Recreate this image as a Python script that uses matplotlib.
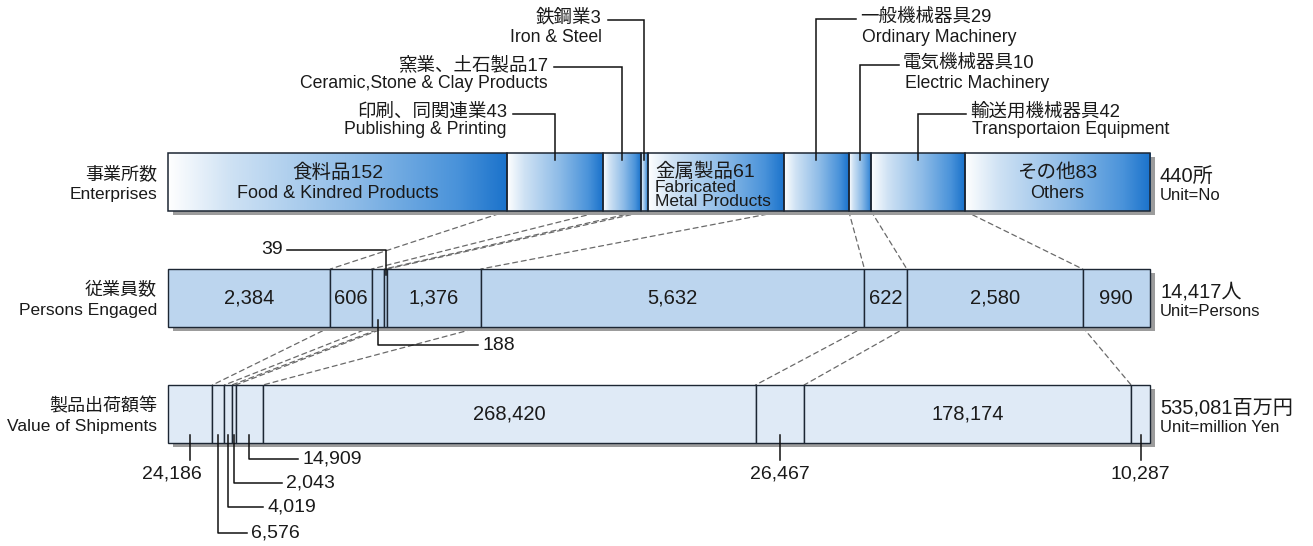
import matplotlib
matplotlib.use('Agg')
import matplotlib.pyplot as plt
import numpy as np
from matplotlib.colors import LinearSegmentedColormap
from matplotlib.patches import ConnectionPatch
import matplotlib.patheffects as pe
from matplotlib.transforms import offset_copy

plt.rcParams['font.family'] = ['Liberation Sans', 'Noto Sans CJK JP', 'DejaVu Sans']

# ---------------- data ----------------
categories_ja = ['食料品', '印刷、同関連業', '窯業、土石製品', '鉄鋼業', '金属製品',
                 '一般機械器具', '電気機械器具', '輸送用機械器具', 'その他']
categories_en = ['Food & Kindred Products', 'Publishing & Printing',
                 'Ceramic,Stone & Clay Products', 'Iron & Steel',
                 'Fabricated Metal Products', 'Ordinary Machinery',
                 'Electric Machinery', 'Transportaion Equipment', 'Others']
enterprises = [152, 43, 17, 3, 61, 29, 10, 42, 83]
persons = [2384, 606, 188, 39, 1376, 5632, 622, 2580, 990]
shipments = [24186, 6576, 4019, 2043, 14909, 268420, 26467, 178174, 10287]

row_titles_ja = ['事業所数', '従業員数', '製品出荷額等']
row_titles_en = ['Enterprises', 'Persons Engaged', 'Value of Shipments']
unit_suffix = ['所', '人', '百万円']
unit_labels = ['Unit=No', 'Unit=Persons', 'Unit=million Yen']

# ---------------- layout ----------------
W, H = 1313, 546
fig = plt.figure(figsize=(W / 100, H / 100), dpi=100)
fig.patch.set_facecolor('white')

BAR_L, BAR_W, BAR_H = 168, 982, 58
bar_tops = [153, 269, 385]
EDGE = '#1c2633'
TXT = '#1a1a1a'
DASH = '#6a6a6a'

ov = fig.add_axes([0, 0, 1, 1], zorder=5)
ov.set_xlim(0, W)
ov.set_ylim(H, 0)
ov.axis('off')
ov.patch.set_alpha(0)


def add_bar_axes(top, total):
    ax = fig.add_axes([BAR_L / W, 1 - (top + BAR_H) / H, BAR_W / W, BAR_H / H], zorder=1)
    ax.axis('off')
    return ax


def to_px(ax, x, y):
    d = ax.transData.transform((x, y))
    return ov.transData.inverted().transform(d)


grad_cmap = LinearSegmentedColormap.from_list(
    'g', [(0.0, '#ffffff'), (0.18, '#cfe2f4'), (0.55, '#8dbbe7'),
          (0.85, '#4a93da'), (1.0, '#1a72cb')])

series = [enterprises, persons, shipments]
fills = [None, '#bcd5ee', '#dfeaf6']
axes = []
for r, vals in enumerate(series):
    total = sum(vals)
    ax = add_bar_axes(bar_tops[r], total)
    lefts = np.concatenate([[0], np.cumsum(vals)[:-1]])
    # shadow
    ax.barh(0.5, total, left=0, height=1, color='white', clip_on=False, zorder=0.5,
            path_effects=[pe.SimplePatchShadow(offset=(3.6, -3.2), shadow_rgbFace='#9c9c9c', alpha=1),
                          pe.Normal()])
    if fills[r] is None:
        g = np.linspace(0, 1, 256).reshape(1, -1)
        for l, v in zip(lefts, vals):
            ax.imshow(g, extent=(l, l + v, 0, 1), aspect='auto', cmap=grad_cmap,
                      interpolation='bilinear', zorder=1)
        ax.barh(0.5, vals, left=lefts, height=1, facecolor='none', edgecolor=EDGE,
                linewidth=1.1, clip_on=False, zorder=2)
    else:
        ax.barh(0.5, vals, left=lefts, height=1, facecolor=fills[r], edgecolor=EDGE,
                linewidth=1.0, clip_on=False, zorder=2)
    ax.set_xlim(0, total)
    ax.set_ylim(0, 1)
    axes.append((ax, lefts, vals, total))

    # row titles
    yt = bar_tops[r] + BAR_H / 2
    ov.text(157, yt - 7, row_titles_ja[r], ha='right', va='center', fontsize=13, color=TXT)
    ov.text(157, yt + 12, row_titles_en[r], ha='right', va='center', fontsize=12.5, color=TXT)
    ov.text(1160, yt - 6, f'{total:,}{unit_suffix[r]}', ha='left', va='center', fontsize=14.5, color=TXT)
    ov.text(1160, yt + 13, unit_labels[r], ha='left', va='center', fontsize=12, color=TXT)

ax_e, le, ve, te = axes[0]
ax_p, lp, vp, tp = axes[1]
ax_s, ls, vs, ts = axes[2]

# connectors
for (axA, lA, vA, tA), (axB, lB, vB, tB) in [(axes[0], axes[1]), (axes[1], axes[2])]:
    bA = np.cumsum(vA)[:-1]
    bB = np.cumsum(vB)[:-1]
    for xa, xb in zip(bA, bB):
        con = ConnectionPatch(xyA=(xa, 0), coordsA=axA.transData,
                              xyB=(xb, 1), coordsB=axB.transData,
                              color=DASH, linewidth=0.9, linestyle=(0, (4, 3)), zorder=1)
        fig.add_artist(con)

# ---------- top bar labels ----------
def cen(lefts, vals, i):
    return lefts[i] + vals[i] / 2

ax_e.text(cen(le, ve, 0), 0.66, f'{categories_ja[0]}{ve[0]}', ha='center', va='center', fontsize=14, color=TXT)
ax_e.text(cen(le, ve, 0), 0.31, categories_en[0], ha='center', va='center', fontsize=13, color=TXT)
ax_e.text(cen(le, ve, 8), 0.66, f'{categories_ja[8]}{ve[8]}', ha='center', va='center', fontsize=14, color=TXT)
ax_e.text(cen(le, ve, 8), 0.31, categories_en[8], ha='center', va='center', fontsize=13, color=TXT)
tr = offset_copy(ax_e.transData, fig=fig, x=7, y=0, units='dots')
ax_e.text(le[4], 0.68, f'{categories_ja[4]}{ve[4]}', ha='left', va='center', fontsize=14, color=TXT, transform=tr)
ax_e.text(le[4], 0.41, 'Fabricated', ha='left', va='center', fontsize=12.5, color=TXT, transform=tr)
ax_e.text(le[4], 0.17, 'Metal Products', ha='left', va='center', fontsize=12.5, color=TXT, transform=tr)

y_into_top = to_px(ax_e, 0, 0.88)[1]
left_ann = {3: (602, 18, 37), 2: (548, 65, 84), 1: (507, 112, 130)}
for i, (xr, yj, yen) in left_ann.items():
    cx = to_px(ax_e, cen(le, ve, i), 0)[0]
    ov.text(xr, yj, f'{categories_ja[i]}{ve[i]}', ha='right', va='center', fontsize=13.3, color=TXT)
    ov.text(xr, yen, categories_en[i], ha='right', va='center', fontsize=12.7, color=TXT)
    ov.plot([xr + 6, cx, cx], [yj + 2, yj + 2, y_into_top], color='#111', lw=1.1, solid_joinstyle='miter')

right_ann = {5: (860, 17, 37), 6: (903, 63, 84), 7: (970, 112, 130)}
for i, (xl, yj, yen) in right_ann.items():
    cx = to_px(ax_e, cen(le, ve, i), 0)[0]
    ov.text(xl, yj, f'{categories_ja[i]}{ve[i]}', ha='left', va='center', fontsize=13.3, color=TXT)
    ov.text(xl + 2, yen, categories_en[i], ha='left', va='center', fontsize=12.7, color=TXT)
    ov.plot([xl - 4, cx, cx], [yj + 2, yj + 2, y_into_top], color='#111', lw=1.1, solid_joinstyle='miter')

# ---------- middle bar labels ----------
for i in [0, 1, 4, 5, 6, 7, 8]:
    ax_p.text(cen(lp, vp, i), 0.5, f'{vp[i]:,}', ha='center', va='center', fontsize=14.5, color=TXT)

cx3 = to_px(ax_p, cen(lp, vp, 3), 0)[0]
y_in_p_top = to_px(ax_p, 0, 0.9)[1]
ov.text(283, 250, f'{vp[3]:,}', ha='right', va='center', fontsize=14, color=TXT)
ov.plot([287, cx3, cx3], [250, 250, y_in_p_top], color='#111', lw=1.1)

cx2 = to_px(ax_p, cen(lp, vp, 2), 0)[0]
y_in_p_bot = to_px(ax_p, 0, 0.12)[1]
ov.plot([cx2, cx2, 478], [y_in_p_bot, 345, 345], color='#111', lw=1.1)
ov.text(482, 345, f'{vp[2]:,}', ha='left', va='center', fontsize=14, color=TXT)

# ---------- bottom bar labels ----------
for i in [5, 7]:
    ax_s.text(cen(ls, vs, i), 0.5, f'{vs[i]:,}', ha='center', va='center', fontsize=14.5, color=TXT)

y_in_s = to_px(ax_s, 0, 0.14)[1]
for i, dx in [(0, -18), (6, 0), (8, 0)]:
    cx = to_px(ax_s, cen(ls, vs, i), 0)[0]
    ov.plot([cx, cx], [y_in_s, 460], color='#111', lw=1.1)
    ov.text(cx + dx, 474, f'{vs[i]:,}', ha='center', va='center', fontsize=14, color=TXT)

side_ann = {4: (459, 298), 3: (483, 282), 2: (507, 263), 1: (533, 247)}
for i, (yy, xe) in side_ann.items():
    cx = to_px(ax_s, cen(ls, vs, i), 0)[0]
    ov.plot([cx, cx, xe], [y_in_s, yy, yy], color='#111', lw=1.1)
    ov.text(xe + 4, yy, f'{vs[i]:,}', ha='left', va='center', fontsize=14, color=TXT)

fig.savefig('out.png', dpi=100, facecolor='white')
